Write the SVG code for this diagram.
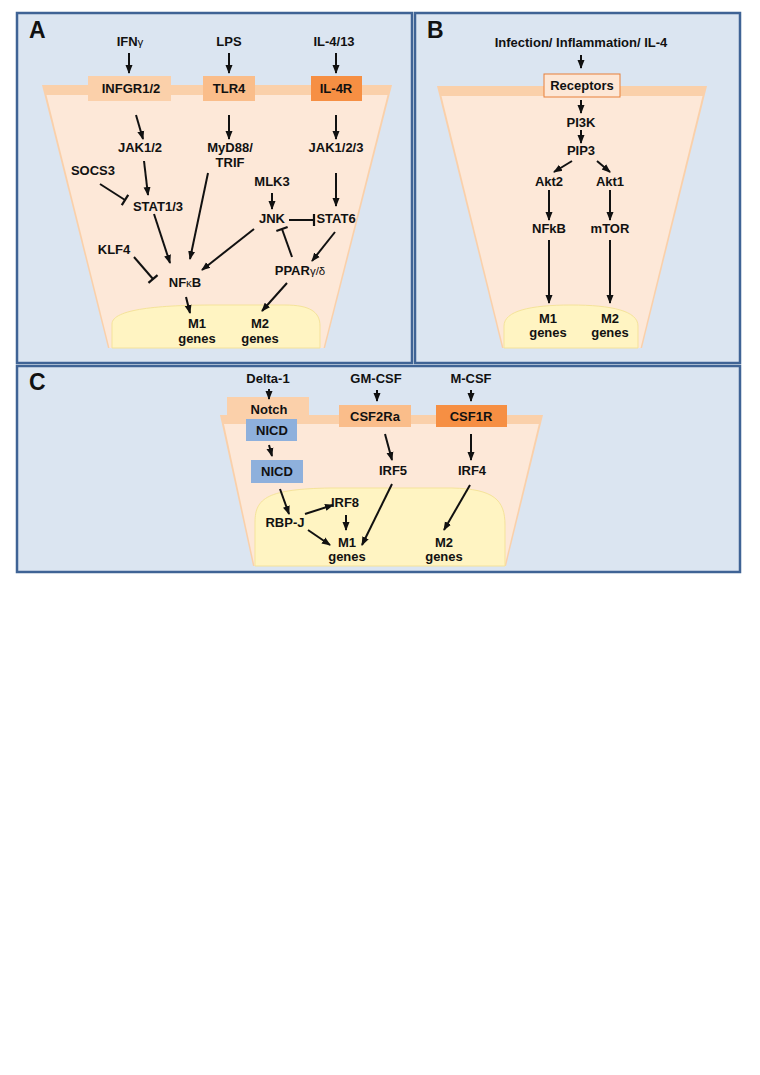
<svg xmlns="http://www.w3.org/2000/svg" width="760" height="1075" viewBox="0 0 760 1075">
<style>
.t{font-family:"Liberation Sans",Arial,sans-serif;font-weight:bold;font-size:13px;text-anchor:middle;fill:#111}
.lbl{font-family:"Liberation Sans",Arial,sans-serif;font-weight:bold;font-size:23px;fill:#111}
.g{font-weight:normal;font-size:11.5px}
.panel{fill:#dbe5f1;stroke:#3f6395;stroke-width:2.5}
.band{fill:#fad0aa}
.cyto{fill:#fde8d8}
.nuc{fill:#fff4c2;stroke:#f5e39a;stroke-width:1}
.a{stroke:#111;stroke-width:2;fill:none;marker-end:url(#ah)}
.i{stroke:#111;stroke-width:2;fill:none;marker-end:url(#bar)}
.lt{fill:#fbd0aa}
.md{fill:#fabd8a}
.dk{fill:#f68f43}
.bl{fill:#8eb0dc}
</style>
<defs>
<marker id="ah" markerUnits="userSpaceOnUse" markerWidth="9" markerHeight="9" viewBox="0 0 9 9" refX="8" refY="4.5" orient="auto">
<path d="M0,1 L9,4.5 L0,8 z" fill="#111"/>
</marker>
<marker id="bar" markerUnits="userSpaceOnUse" markerWidth="4" markerHeight="14" viewBox="0 0 4 14" refX="2" refY="7" orient="auto">
<line x1="2" y1="1" x2="2" y2="13" stroke="#111" stroke-width="2.2"/>
</marker>
</defs>
<rect width="760" height="1075" fill="#fff"/>

<!-- Panels -->
<g id="panelA">
<rect class="panel" x="17" y="13" width="395" height="350"/>
<text class="lbl" x="29" y="38">A</text>
<polygon class="band" points="42,85 392,85 325,348 108,348"/>
<polygon class="cyto" points="46.5,95 387.5,95 323.5,348 109.5,348"/>
<path class="nuc" d="M112,348 L112,324 C112,309 160,305 215,305 L285,305 C310,305 320,312 320,326 L320,348 Z"/>
</g>
<g id="panelB">
<rect class="panel" x="415" y="13" width="325" height="350"/>
<text class="lbl" x="427" y="38">B</text>
<polygon class="band" points="437,86 707,86 642,348 502,348"/>
<polygon class="cyto" points="441.5,96 702.5,96 640.5,348 503.5,348"/>
<path class="nuc" d="M504,348 L504,326 C504,311 530,305 571,305 C612,305 638,311 638,326 L638,348 Z"/>
</g>
<g id="panelC">
<rect class="panel" x="17" y="366" width="723" height="206"/>
<text class="lbl" x="29" y="390">C</text>
<polygon class="band" points="220,415 543,415 506,566 253,566"/>
<polygon class="cyto" points="224,424 538.8,424 504.5,566 254.5,566"/>
<path class="nuc" d="M255,566 L255,522 C255,498 268,489 330,488 L452,488 C494,489 505,500 505,525 L505,566 Z"/>
</g>

<!-- Panel A nodes -->
<g id="IFNg"><text class="t" x="130" y="46">IFN<tspan class="g">γ</tspan></text></g>
<g id="LPS"><text class="t" x="229" y="46">LPS</text></g>
<g id="IL413"><text class="t" x="334" y="46">IL-4/13</text></g>
<g id="INFGR"><rect class="lt" x="88" y="76" width="83" height="25"/><text class="t" x="131" y="93">INFGR1/2</text></g>
<g id="TLR4"><rect class="md" x="203" y="76" width="52" height="25"/><text class="t" x="229" y="93">TLR4</text></g>
<g id="IL4R"><rect class="dk" x="311" y="76" width="51" height="25"/><text class="t" x="336" y="93">IL-4R</text></g>
<g id="JAK12"><text class="t" x="140" y="152">JAK1/2</text></g>
<g id="MyD88"><text class="t" x="230" y="152">MyD88/</text><text class="t" x="230" y="167">TRIF</text></g>
<g id="JAK123"><text class="t" x="336" y="152">JAK1/2/3</text></g>
<g id="SOCS3"><text class="t" x="93" y="175">SOCS3</text></g>
<g id="MLK3"><text class="t" x="272" y="186">MLK3</text></g>
<g id="STAT13"><text class="t" x="158" y="211">STAT1/3</text></g>
<g id="JNK"><text class="t" x="272" y="223">JNK</text></g>
<g id="STAT6"><text class="t" x="336" y="223">STAT6</text></g>
<g id="KLF4"><text class="t" x="114" y="254">KLF4</text></g>
<g id="PPAR"><text class="t" x="300" y="275">PPAR<tspan class="g">γ/δ</tspan></text></g>
<g id="NFkB_A"><text class="t" x="185" y="287">NF<tspan class="g">κ</tspan>B</text></g>
<g id="M1A"><text class="t" x="197" y="328">M1</text><text class="t" x="197" y="343">genes</text></g>
<g id="M2A"><text class="t" x="260" y="328">M2</text><text class="t" x="260" y="343">genes</text></g>

<!-- Panel B nodes -->
<g id="Infection"><text class="t" x="581" y="47">Infection/ Inflammation/ IL-4</text></g>
<g id="Receptors"><rect x="544" y="74" width="76" height="23" fill="#fde7d6" stroke="#e8803a" stroke-width="1"/><text class="t" x="582" y="90">Receptors</text></g>
<g id="PI3K"><text class="t" x="581" y="127">PI3K</text></g>
<g id="PIP3"><text class="t" x="581" y="155">PIP3</text></g>
<g id="Akt2"><text class="t" x="549" y="186">Akt2</text></g>
<g id="Akt1"><text class="t" x="610" y="186">Akt1</text></g>
<g id="NFkB_B"><text class="t" x="549" y="233">NFkB</text></g>
<g id="mTOR"><text class="t" x="610" y="233">mTOR</text></g>
<g id="M1B"><text class="t" x="548" y="323">M1</text><text class="t" x="548" y="337">genes</text></g>
<g id="M2B"><text class="t" x="610" y="323">M2</text><text class="t" x="610" y="337">genes</text></g>

<!-- Panel C nodes -->
<g id="Delta1"><text class="t" x="268" y="383">Delta-1</text></g>
<g id="GMCSF"><text class="t" x="376" y="383">GM-CSF</text></g>
<g id="MCSF"><text class="t" x="471" y="383">M-CSF</text></g>
<g id="Notch"><rect class="lt" x="227" y="397" width="82" height="25"/><text class="t" x="269" y="414">Notch</text></g>
<g id="CSF2Ra"><rect class="md" x="339" y="405" width="72" height="22"/><text class="t" x="375" y="421">CSF2Ra</text></g>
<g id="CSF1R"><rect class="dk" x="436" y="405" width="71" height="22"/><text class="t" x="471" y="421">CSF1R</text></g>
<g id="NICD1"><rect class="bl" x="246" y="419" width="51" height="22"/><text class="t" x="272" y="435">NICD</text></g>
<g id="NICD2"><rect class="bl" x="251" y="460" width="52" height="23"/><text class="t" x="277" y="476">NICD</text></g>
<g id="IRF5"><text class="t" x="393" y="475">IRF5</text></g>
<g id="IRF4"><text class="t" x="472" y="475">IRF4</text></g>
<g id="IRF8"><text class="t" x="345" y="507">IRF8</text></g>
<g id="RBPJ"><text class="t" x="285" y="527">RBP-J</text></g>
<g id="M1C"><text class="t" x="347" y="547">M1</text><text class="t" x="347" y="561">genes</text></g>
<g id="M2C"><text class="t" x="444" y="547">M2</text><text class="t" x="444" y="561">genes</text></g>

<!-- Connectors -->
<g id="connectors">
<line class="a" x1="129" y1="53" x2="129" y2="73"/>
<line class="a" x1="229" y1="53" x2="229" y2="73"/>
<line class="a" x1="336" y1="53" x2="336" y2="73"/>
<line class="a" x1="136" y1="115" x2="143" y2="139"/>
<line class="a" x1="229" y1="115" x2="229" y2="139"/>
<line class="a" x1="336" y1="115" x2="336" y2="139"/>
<line class="a" x1="144" y1="161" x2="148" y2="195"/>
<line class="i" x1="100" y1="184" x2="125" y2="200"/>
<line class="a" x1="272" y1="193" x2="272" y2="209"/>
<line class="a" x1="336" y1="173" x2="336" y2="206"/>
<line class="i" x1="289" y1="220" x2="314" y2="220"/>
<line class="a" x1="154" y1="214" x2="170" y2="263"/>
<line class="a" x1="208" y1="173" x2="190" y2="259"/>
<line class="i" x1="134" y1="257" x2="153" y2="279"/>
<line class="a" x1="254" y1="229" x2="202" y2="270"/>
<line class="a" x1="335" y1="232" x2="312" y2="261"/>
<line class="i" x1="292" y1="257" x2="282" y2="229"/>
<line class="a" x1="186" y1="297" x2="190" y2="313"/>
<line class="a" x1="287" y1="283" x2="262" y2="311"/>

<line class="a" x1="581" y1="55" x2="581" y2="68"/>
<line class="a" x1="581" y1="100" x2="581" y2="113"/>
<line class="a" x1="581" y1="130" x2="581" y2="143"/>
<line class="a" x1="572" y1="161" x2="554" y2="172"/>
<line class="a" x1="597" y1="161" x2="610" y2="172"/>
<line class="a" x1="549" y1="190" x2="549" y2="220"/>
<line class="a" x1="610" y1="190" x2="610" y2="220"/>
<line class="a" x1="549" y1="240" x2="549" y2="303"/>
<line class="a" x1="610" y1="240" x2="610" y2="303"/>

<line class="a" x1="269" y1="389" x2="269" y2="399"/>
<line class="a" x1="377" y1="390" x2="377" y2="401"/>
<line class="a" x1="471" y1="390" x2="471" y2="401"/>
<line class="a" x1="269" y1="445" x2="272" y2="456"/>
<line class="a" x1="385" y1="434" x2="392" y2="460"/>
<line class="a" x1="471" y1="434" x2="471" y2="460"/>
<line class="a" x1="280" y1="489" x2="289" y2="514"/>
<line class="a" x1="305" y1="514" x2="333" y2="505"/>
<line class="a" x1="346" y1="515" x2="346" y2="530"/>
<line class="a" x1="308" y1="530" x2="330" y2="545"/>
<line class="a" x1="392" y1="484" x2="362" y2="545"/>
<line class="a" x1="470" y1="485" x2="444" y2="530"/>
</g>
</svg>
